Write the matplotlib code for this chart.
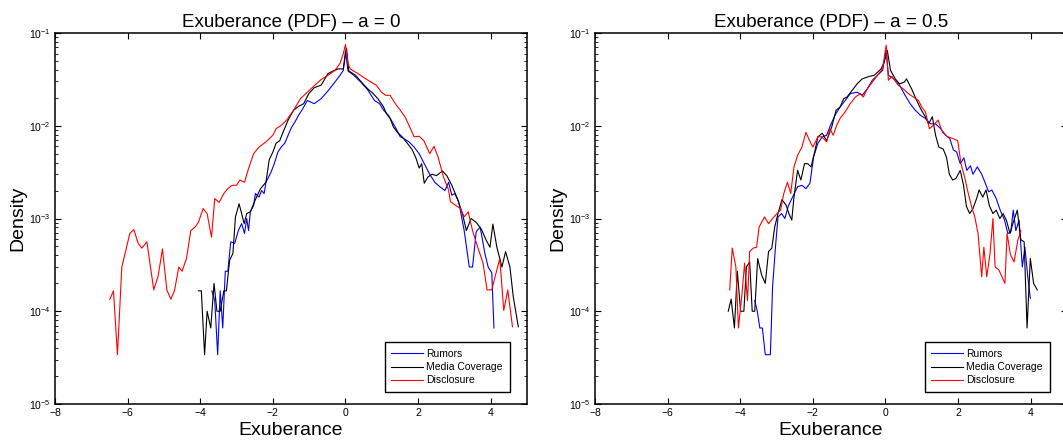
import matplotlib
matplotlib.use('Agg')

import math
import matplotlib.pyplot as plt
from matplotlib.ticker import FixedLocator, FuncFormatter, LogLocator, NullLocator

plt.rcParams['font.family'] = ['Liberation Sans', 'DejaVu Sans']
plt.rcParams['mathtext.fontset'] = 'custom'
plt.rcParams['mathtext.rm'] = 'Liberation Sans'
plt.rcParams['mathtext.it'] = 'Liberation Sans'

# ---- a = 0 ----
x_dis0 = [-6.49, -6.39, -6.28, -6.16, -6.07, -5.94, -5.83, -5.71, -5.61, -5.47, -5.28, -5.16, -5.04, -4.92,
          -4.81, -4.71, -4.59, -4.50, -4.38, -4.26, -4.14, -4.05, -3.92, -3.81, -3.69, -3.60, -3.48, -3.35,
          -3.24, -3.12, -3.00, -2.91, -2.78, -2.67, -2.53, -2.38, -2.19, -2.00, -1.91, -1.77, -1.62, -1.43,
          -1.24, -1.05, -0.86, -0.67, -0.48, -0.29, -0.15, -0.06, 0.00, 0.07, 0.13, 0.32, 0.51, 0.70, 0.85,
          0.99, 1.11, 1.23, 1.37, 1.51, 1.65, 1.79, 1.89, 2.03, 2.16, 2.32, 2.44, 2.55, 2.70, 2.84, 2.89,
          3.03, 3.17, 3.27, 3.38, 3.50, 3.65, 3.79, 3.90, 4.03, 4.12, 4.25, 4.36, 4.47, 4.60]
y_dis0 = [1.34e-4, 1.66e-4, 3.4e-5, 3.0e-4, 4.2e-4, 6.9e-4, 7.6e-4, 5.4e-4, 4.8e-4, 5.6e-4, 1.7e-4, 2.4e-4,
          4.7e-4, 1.7e-4, 1.35e-4, 1.66e-4, 3.0e-4, 2.7e-4, 3.7e-4, 7.4e-4, 8.1e-4, 9.1e-4, 1.28e-3, 1.13e-3,
          6.3e-4, 1.64e-3, 1.49e-3, 1.86e-3, 2.1e-3, 2.28e-3, 2.28e-3, 2.6e-3, 2.46e-3, 3.45e-3, 5.0e-3,
          5.9e-3, 6.7e-3, 7.9e-3, 9.3e-3, 1.01e-2, 1.15e-2, 1.47e-2, 1.96e-2, 2.3e-2, 2.7e-2, 3.15e-2,
          3.5e-2, 3.95e-2, 4.7e-2, 6.0e-2, 7.5e-2, 4.7e-2, 4.1e-2, 3.7e-2, 3.3e-2, 2.96e-2, 2.74e-2, 2.3e-2,
          2.13e-2, 2.13e-2, 1.74e-2, 1.47e-2, 1.23e-2, 9.3e-3, 7.6e-3, 7.7e-3, 6.9e-3, 5.0e-3, 6.0e-3,
          4.6e-3, 2.8e-3, 2.03e-3, 1.52e-3, 1.39e-3, 1.28e-3, 1.04e-3, 1.18e-3, 7.4e-4, 4.8e-4, 3.3e-4,
          1.7e-4, 1.7e-4, 2.35e-4, 3.7e-4, 1.02e-4, 1.7e-4, 6.8e-5]

x_rum0 = [-3.68, -3.60, -3.52, -3.45, -3.38, -3.31, -3.24, -3.16, -3.05, -2.95, -2.86, -2.78, -2.72, -2.67,
          -2.62, -2.53, -2.48, -2.38, -2.31, -2.24, -2.19, -2.05, -1.96, -1.86, -1.77, -1.67, -1.58, -1.48,
          -1.39, -1.29, -1.20, -1.05, -0.86, -0.67, -0.48, -0.29, -0.15, -0.06, 0.00, 0.07, 0.23, 0.42, 0.61,
          0.80, 0.94, 1.05, 1.18, 1.37, 1.51, 1.60, 1.75, 1.89, 2.03, 2.17, 2.32, 2.46, 2.60, 2.74, 2.84,
          2.93, 3.01, 3.12, 3.27, 3.41, 3.50, 3.60, 3.71, 3.84, 3.93, 4.03, 4.09]
y_rum0 = [1.66e-4, 1.3e-4, 3.4e-5, 1.66e-4, 6.6e-5, 2.7e-4, 2.7e-4, 5.6e-4, 5.4e-4, 7.4e-4, 8.8e-4, 6.9e-4,
          1.0e-3, 7.4e-4, 1.18e-3, 1.38e-3, 1.86e-3, 1.7e-3, 2.0e-3, 1.86e-3, 2.46e-3, 3.16e-3, 3.9e-3,
          5.2e-3, 5.9e-3, 6.5e-3, 7.9e-3, 9.7e-3, 1.1e-2, 1.3e-2, 1.47e-2, 1.87e-2, 1.73e-2, 1.96e-2,
          2.38e-2, 2.96e-2, 3.5e-2, 3.95e-2, 6.5e-2, 3.9e-2, 3.5e-2, 2.96e-2, 2.45e-2, 1.87e-2, 1.73e-2,
          1.47e-2, 1.3e-2, 9.7e-3, 7.6e-3, 7.3e-3, 6.7e-3, 5.9e-3, 5.0e-3, 3.9e-3, 3.0e-3, 2.46e-3, 2.2e-3,
          2.0e-3, 2.46e-3, 1.78e-3, 1.86e-3, 1.52e-3, 7.4e-4, 3.0e-4, 3.0e-4, 7.2e-4, 8.1e-4, 4.2e-4,
          3.0e-4, 2.6e-4, 6.6e-5]

x_med0 = [-4.05, -3.97, -3.88, -3.81, -3.71, -3.62, -3.54, -3.45, -3.35, -3.28, -3.19, -3.10, -3.03, -2.93,
          -2.86, -2.79, -2.72, -2.62, -2.48, -2.34, -2.19, -2.10, -2.00, -1.91, -1.81, -1.72, -1.58, -1.43,
          -1.29, -1.15, -1.01, -0.86, -0.67, -0.48, -0.34, -0.20, -0.06, 0.03, 0.09, 0.28, 0.47, 0.61, 0.75,
          0.89, 1.04, 1.13, 1.23, 1.32, 1.43, 1.56, 1.70, 1.84, 1.94, 2.03, 2.10, 2.17, 2.27, 2.38, 2.51,
          2.67, 2.79, 2.93, 3.08, 3.22, 3.33, 3.46, 3.60, 3.74, 3.88, 3.98, 4.06, 4.17, 4.31, 4.41, 4.53,
          4.62, 4.76]
y_med0 = [1.66e-4, 1.66e-4, 3.4e-5, 1.0e-4, 6.6e-5, 2.0e-4, 1.0e-4, 1.0e-4, 1.66e-4, 1.66e-4, 3.55e-4,
          4.2e-4, 1.04e-3, 1.44e-3, 1.13e-3, 8.8e-4, 1.13e-3, 1.18e-3, 1.6e-3, 2.1e-3, 2.46e-3, 4.3e-3,
          5.2e-3, 6.5e-3, 6.9e-3, 8.5e-3, 1.15e-2, 1.47e-2, 1.62e-2, 1.73e-2, 2.22e-2, 2.57e-2, 2.74e-2,
          3.65e-2, 3.9e-2, 4.1e-2, 4.1e-2, 6.8e-2, 3.9e-2, 3.5e-2, 2.87e-2, 2.5e-2, 2.25e-2, 1.96e-2,
          1.62e-2, 1.35e-2, 1.2e-2, 9.7e-3, 8.5e-3, 7.6e-3, 6.5e-3, 5.5e-3, 4.5e-3, 3.5e-3, 3.9e-3, 2.4e-3,
          2.8e-3, 3.0e-3, 2.9e-3, 3.25e-3, 2.9e-3, 2.28e-3, 1.64e-3, 1.13e-3, 7.4e-4, 1.0e-3, 9.1e-4,
          7.7e-4, 5.8e-4, 4.9e-4, 8.7e-4, 4.9e-4, 3.0e-4, 4.4e-4, 3.0e-4, 1.45e-4, 6.8e-5]

# ---- a = 0.5 ----
x_dis5 = [-4.29, -4.22, -4.12, -4.05, -3.95, -3.88, -3.80, -3.74, -3.64, -3.55, -3.48, -3.33, -3.22, -3.11,
          -2.99, -2.89, -2.80, -2.70, -2.61, -2.52, -2.42, -2.30, -2.19, -2.09, -2.00, -1.86, -1.75, -1.62,
          -1.53, -1.44, -1.34, -1.25, -1.11, -0.97, -0.83, -0.69, -0.61, -0.50, -0.36, -0.22, -0.08, 0.02,
          0.08, 0.18, 0.35, 0.49, 0.63, 0.77, 0.91, 1.00, 1.10, 1.21, 1.33, 1.45, 1.57, 1.71, 1.85, 1.99,
          2.08, 2.18, 2.27, 2.37, 2.46, 2.55, 2.65, 2.71, 2.79, 2.88, 2.96, 3.02, 3.12, 3.21, 3.29, 3.35,
          3.44, 3.54, 3.65, 3.73]
y_dis5 = [1.7e-4, 4.8e-4, 3.0e-4, 6.6e-5, 1.55e-4, 3.3e-4, 1.3e-4, 4.4e-4, 4.8e-4, 4.9e-4, 8.1e-4, 1.04e-3,
          8.8e-4, 1.0e-3, 1.13e-3, 1.23e-3, 1.86e-3, 2.46e-3, 1.86e-3, 3.6e-3, 4.8e-3, 5.9e-3, 8.5e-3,
          6.9e-3, 5.9e-3, 7.6e-3, 7.6e-3, 6.7e-3, 9.3e-3, 7.9e-3, 1.02e-2, 1.2e-2, 1.41e-2, 1.73e-2,
          2.04e-2, 2.22e-2, 2.04e-2, 2.5e-2, 2.96e-2, 3.5e-2, 4.1e-2, 7.4e-2, 3.1e-2, 3.4e-2, 2.74e-2,
          2.5e-2, 2.22e-2, 2.04e-2, 1.87e-2, 1.59e-2, 1.41e-2, 9.3e-3, 1.02e-2, 1.15e-2, 8.5e-3, 7.6e-3,
          7.3e-3, 6.9e-3, 3.9e-3, 2.8e-3, 1.94e-3, 1.35e-3, 1.04e-3, 6.9e-4, 2.35e-4, 4.9e-4, 2.35e-4,
          4.2e-4, 1.0e-3, 3.0e-4, 2.8e-4, 2.35e-4, 2.0e-4, 6.9e-4, 4.1e-4, 3.4e-4, 5.9e-4, 7.4e-4]

x_rum5 = [-3.60, -3.53, -3.46, -3.39, -3.31, -3.17, -3.11, -3.03, -2.96, -2.86, -2.77, -2.68, -2.56, -2.42,
          -2.30, -2.19, -2.08, -1.98, -1.86, -1.74, -1.62, -1.51, -1.39, -1.25, -1.11, -0.97, -0.78, -0.64,
          -0.50, -0.36, -0.22, -0.08, 0.02, 0.08, 0.23, 0.39, 0.54, 0.68, 0.82, 0.96, 1.10, 1.24, 1.38, 1.52,
          1.66, 1.77, 1.87, 1.96, 2.06, 2.16, 2.24, 2.34, 2.41, 2.53, 2.65, 2.74, 2.84, 2.93, 3.05, 3.16,
          3.28, 3.37, 3.45, 3.52, 3.59, 3.68, 3.77, 3.84, 3.92, 3.99]
y_rum5 = [1.3e-4, 1.0e-4, 6.6e-5, 6.6e-5, 3.4e-5, 3.4e-5, 1.8e-4, 4.9e-4, 1.04e-3, 1.13e-3, 1.0e-3, 1.35e-3,
          1.7e-3, 2.2e-3, 2.28e-3, 2.1e-3, 2.4e-3, 4.6e-3, 6.5e-3, 7.6e-3, 7.9e-3, 1.02e-2, 1.3e-2, 1.59e-2,
          1.87e-2, 2.22e-2, 2.3e-2, 2.13e-2, 2.5e-2, 3.1e-2, 3.5e-2, 3.95e-2, 6.5e-2, 3.5e-2, 3.2e-2,
          2.74e-2, 2.13e-2, 1.73e-2, 1.47e-2, 1.3e-2, 1.2e-2, 1.05e-2, 1.05e-2, 9.3e-3, 7.9e-3, 7.3e-3,
          5.5e-3, 5.2e-3, 3.9e-3, 4.5e-3, 3.3e-3, 3.7e-3, 3.0e-3, 3.6e-3, 3.0e-3, 2.46e-3, 1.94e-3, 2.03e-3,
          1.64e-3, 1.23e-3, 9.6e-4, 6.9e-4, 7.1e-4, 1.23e-3, 7.4e-4, 9.6e-4, 3.0e-4, 4.9e-4, 2.35e-4,
          1.38e-4]

x_med5 = [-4.33, -4.25, -4.16, -4.08, -3.99, -3.90, -3.83, -3.74, -3.67, -3.60, -3.52, -3.41, -3.31, -3.22,
          -3.13, -3.05, -2.96, -2.85, -2.73, -2.66, -2.58, -2.52, -2.42, -2.33, -2.23, -2.14, -2.05, -1.95,
          -1.86, -1.74, -1.62, -1.48, -1.36, -1.25, -1.15, -1.06, -0.92, -0.78, -0.64, -0.45, -0.31, -0.12,
          -0.03, 0.05, 0.14, 0.27, 0.39, 0.52, 0.58, 0.72, 0.86, 0.99, 1.10, 1.19, 1.29, 1.38, 1.47, 1.59,
          1.68, 1.76, 1.85, 1.94, 2.06, 2.15, 2.23, 2.32, 2.41, 2.51, 2.58, 2.68, 2.77, 2.86, 2.96, 3.05,
          3.15, 3.24, 3.33, 3.43, 3.52, 3.63, 3.73, 3.82, 3.90, 3.99, 4.08, 4.18]
y_med5 = [1.0e-4, 1.35e-4, 6.6e-5, 2.7e-4, 1.0e-4, 1.0e-4, 3.0e-4, 3.4e-4, 1.0e-4, 1.0e-4, 3.7e-4, 2.45e-4,
          2.0e-4, 4.4e-4, 4.8e-4, 8.1e-4, 1.13e-3, 1.6e-3, 1.38e-3, 1.13e-3, 9.6e-4, 1.7e-3, 3.3e-3, 2.6e-3,
          3.9e-3, 3.9e-3, 3.6e-3, 5.2e-3, 7.6e-3, 8.3e-3, 6.9e-3, 9.7e-3, 1.47e-2, 1.59e-2, 1.96e-2,
          2.04e-2, 2.4e-2, 2.83e-2, 3.2e-2, 3.4e-2, 3.5e-2, 4.1e-2, 4.9e-2, 6.5e-2, 3.95e-2, 3.2e-2,
          2.83e-2, 2.96e-2, 3.2e-2, 2.5e-2, 1.87e-2, 1.47e-2, 1.25e-2, 1.05e-2, 1.25e-2, 7.9e-3, 5.9e-3,
          5.6e-3, 4.6e-3, 3.0e-3, 2.6e-3, 2.7e-3, 3.3e-3, 2.28e-3, 1.35e-3, 1.13e-3, 1.28e-3, 1.64e-3,
          2.03e-3, 1.7e-3, 2.03e-3, 1.38e-3, 1.13e-3, 1.23e-3, 1.0e-3, 1.13e-3, 9.6e-4, 6.9e-4, 9.1e-4,
          1.23e-3, 5.9e-4, 5.6e-4, 6.6e-5, 3.7e-4, 2.0e-4, 1.7e-4]

titles = ['Exuberance (PDF) – a = 0', 'Exuberance (PDF) – a = 0.5']
labels = ['Rumors', 'Media Coverage', 'Disclosure']
panels = [
    [(x_rum0, y_rum0), (x_med0, y_med0), (x_dis0, y_dis0)],
    [(x_rum5, y_rum5), (x_med5, y_med5), (x_dis5, y_dis5)],
]
colors = ['#0000ff', '#000000', '#ff0000']


def sci(v, pos):
    return '$10^{%d}$' % int(round(math.log10(v)))


def minus(v, pos):
    return '%d' % v if v >= 0 else '\u2212%d' % -v


fig = plt.figure(figsize=(10.63, 4.43), dpi=100)
lefts = [55 / 1063, 595 / 1063]
for k in range(2):
    ax = fig.add_axes([lefts[k], 39 / 443, 472 / 1063, 371 / 443])
    for (xs, ys), lab, c in zip(panels[k], labels, colors):
        ax.plot(xs, ys, color=c, lw=0.8, label=lab)
    ax.set_yscale('log')
    ax.set_xlim(-8, 5)
    ax.set_ylim(1e-5, 1e-1)
    ax.xaxis.set_major_locator(FixedLocator([-8, -6, -4, -2, 0, 2, 4]))
    ax.xaxis.set_minor_locator(NullLocator())
    ax.yaxis.set_major_locator(LogLocator(base=10, numticks=10))
    ax.yaxis.set_minor_locator(LogLocator(base=10, subs=range(2, 10), numticks=20))
    ax.yaxis.set_major_formatter(FuncFormatter(sci))
    ax.xaxis.set_major_formatter(FuncFormatter(minus))
    ax.tick_params(which='both', direction='in', top=True, right=True, labelsize=7.5, pad=3)
    ax.tick_params(which='major', length=4, width=0.8)
    ax.tick_params(which='minor', length=2, width=0.6)
    for s in ax.spines.values():
        s.set_linewidth(1.1)
    ax.set_title(titles[k], fontsize=13.5, pad=4)
    ax.set_xlabel('Exuberance', fontsize=14, labelpad=3)
    ax.set_ylabel('Density', fontsize=14, labelpad=2)
    leg = ax.legend(loc='lower right', bbox_to_anchor=(0.963, 0.032), borderaxespad=0, fontsize=7.5,
                    fancybox=False, framealpha=1, edgecolor='black', handlelength=3.0,
                    handletextpad=0.35, labelspacing=0.3, borderpad=0.65)
    leg.get_frame().set_linewidth(1.0)

plt.savefig('out.png', dpi=100)
